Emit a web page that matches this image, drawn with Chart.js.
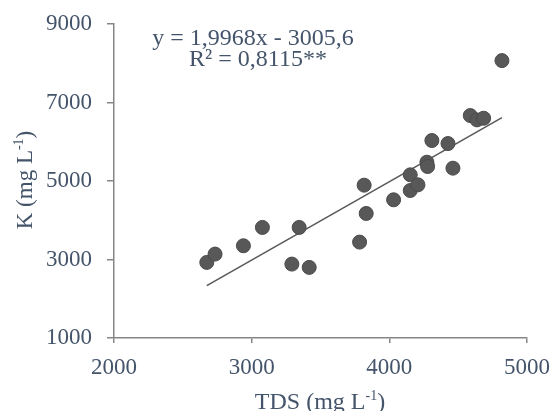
<!DOCTYPE html>
<html>
<head>
<meta charset="utf-8">
<script src="https://cdn.jsdelivr.net/npm/chart.js@4/dist/chart.umd.min.js"></script>
<style>
    body { margin: 0; background: #fff; }
</style>
</head>
<body>
<canvas id="grafico" width="553" height="411"></canvas>
<script>
// valores
let tds = [2674, 2734, 2940, 3078, 3345, 3292, 3418, 3784, 3817, 3832, 4031, 4152,
           4152, 4208, 4273, 4278, 4309, 4426, 4462, 4588, 4637, 4685, 4818];
let potassio = [2926, 3138, 3350, 3817, 3817, 2883, 2799, 3443, 4894, 4173, 4521, 5157,
                4758, 4902, 5479, 5369, 6031, 5954, 5327, 6667, 6557, 6599, 8067];

let ticksX = [2000, 3000, 4000, 5000];
let ticksY = [1000, 3000, 5000, 7000, 9000];

let inclinacao = 1.9968;
let intercepto = -3005.6;
let equacao = "y = 1,9968x - 3005,6";
let r2 = "R² = 0,8115**";

const corTexto = "#44546A";
const corEixo = "#868686";
const fonte = "'Liberation Serif', 'Times New Roman', serif";

let pontos = tds.map(function (x, i) {
    return { x: x, y: potassio[i] };
});

let xMin = Math.min.apply(null, tds);
let xMax = Math.max.apply(null, tds);
let linha = [
    { x: xMin, y: inclinacao * xMin + intercepto },
    { x: xMax, y: inclinacao * xMax + intercepto }
];

function textoComExpoente(ctx, base, expoente, fim, x, y, tamanho) {
    ctx.font = tamanho + "px " + fonte;
    let w1 = ctx.measureText(base).width;
    let w3 = ctx.measureText(fim).width;
    ctx.font = Math.round(tamanho * 0.6) + "px " + fonte;
    let w2 = ctx.measureText(expoente).width;
    let total = w1 + w2 + w3;
    let inicio = x - total / 2;
    ctx.textAlign = "left";
    ctx.font = tamanho + "px " + fonte;
    ctx.fillText(base, inicio, y);
    ctx.font = Math.round(tamanho * 0.6) + "px " + fonte;
    ctx.fillText(expoente, inicio + w1, y - tamanho * 0.38);
    ctx.font = tamanho + "px " + fonte;
    ctx.fillText(fim, inicio + w1 + w2, y);
}

const textos = {
    id: "textos",
    afterDraw: function (chart) {
        let ctx = chart.ctx;
        ctx.save();
        ctx.fillStyle = corTexto;
        ctx.textBaseline = "alphabetic";

        ctx.font = "24px " + fonte;
        ctx.textAlign = "center";
        ctx.fillText(equacao, 253, 45);
        ctx.fillText(r2, 258, 66);

        textoComExpoente(ctx, "TDS (mg L", "-1", ")", 320, 409, 24);

        ctx.translate(32, 180);
        ctx.rotate(-Math.PI / 2);
        textoComExpoente(ctx, "K (mg L", "-1", ")", 0, 0, 23);
        ctx.restore();
    }
};

let grafico = new Chart(document.getElementById("grafico"), {
    type: "scatter",
    data: {
        datasets: [{
            label: "K",
            data: pontos,
            backgroundColor: "#585858",
            borderColor: "#4a4a4a",
            borderWidth: 1,
            pointRadius: 7,
            order: 1
        }, {
            type: "line",
            label: "Tendencia",
            data: linha,
            borderColor: "#595959",
            borderWidth: 1.6,
            pointRadius: 0,
            fill: false,
            order: 2
        }]
    },
    options: {
        responsive: false,
        animation: false,
        layout: {
            padding: { top: 24, right: 26, bottom: 0, left: 0 }
        },
        plugins: {
            legend: { display: false },
            tooltip: { enabled: false }
        },
        scales: {
            x: {
                type: "linear",
                min: 2000,
                max: 5000,
                afterBuildTicks: function (scale) {
                    scale.ticks = ticksX.map(function (v) { return { value: v }; });
                },
                afterFit: function (scale) {
                    scale.height = 73;
                    scale.paddingLeft = 0;
                    scale.paddingRight = 0;
                },
                grid: {
                    drawOnChartArea: false,
                    drawTicks: true,
                    tickLength: 5,
                    color: corEixo,
                    lineWidth: 1.5
                },
                border: { color: corEixo, width: 1.5 },
                ticks: {
                    color: corTexto,
                    padding: 11,
                    maxRotation: 0,
                    font: { family: fonte, size: 23 },
                    callback: function (v) { return String(v); }
                }
            },
            y: {
                type: "linear",
                min: 1000,
                max: 9000,
                afterBuildTicks: function (scale) {
                    scale.ticks = ticksY.map(function (v) { return { value: v }; });
                },
                afterFit: function (scale) {
                    scale.width = 114;
                    scale.paddingTop = 0;
                    scale.paddingBottom = 0;
                },
                grid: {
                    drawOnChartArea: false,
                    drawTicks: true,
                    tickLength: 7,
                    color: corEixo,
                    lineWidth: 1.5
                },
                border: { color: corEixo, width: 1.5 },
                ticks: {
                    color: corTexto,
                    padding: 15,
                    font: { family: fonte, size: 23 },
                    callback: function (v) { return String(v); }
                }
            }
        }
    },
    plugins: [textos]
});
</script>
</body>
</html>
